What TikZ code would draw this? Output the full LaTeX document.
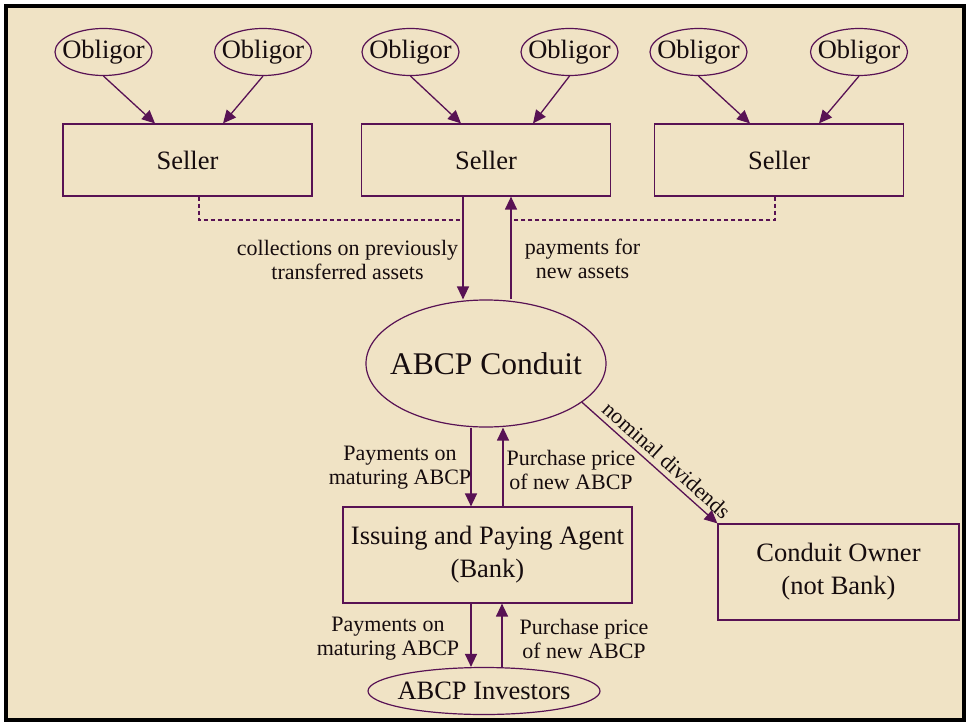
\documentclass[tikz,border=0pt]{standalone}
\usepackage{fontspec}
\setmainfont{Liberation Serif}
\usetikzlibrary{shapes.geometric}
\usetikzlibrary{arrows.meta}
\usetikzlibrary{positioning}

\definecolor{parch}{RGB}{240,227,197}
\definecolor{plum}{RGB}{88,18,84}
\definecolor{ink}{RGB}{22,12,14}

\tikzset{
  obl/.style={ellipse,draw=plum,line width=1.2pt,inner sep=0pt,text=ink,
    minimum width=97pt,minimum height=47pt,font=\fontsize{26.5}{30}\selectfont},
  seller/.style={rectangle,draw=plum,line width=1.2pt,text=ink,
    minimum width=249pt,minimum height=72pt,font=\fontsize{26.5}{30}\selectfont},
  box/.style={rectangle,draw=plum,line width=1.2pt,text=ink,align=center,
    font=\fontsize{26.5}{33}\selectfont},
  flow/.style={draw=plum,line width=1.3pt,-{Triangle[length=13pt,width=12pt]}},
  linkdash/.style={draw=plum,line width=1.1pt,dash pattern=on 4pt off 3pt},
  lbl/.style={text=ink,align=center,font=\fontsize{22}{24}\selectfont},
}

\begin{document}
\begin{tikzpicture}[x=1pt,y=-1pt]
\useasboundingbox (0,0) rectangle (969,723);
\fill[white] (0,0) rectangle (969,723);
\draw[black,line width=3.5pt,fill=parch] (6,6) rectangle (964,720);

% obligors and sellers
\node[obl] (ob1) at (103.5,52) {\makebox[0pt]{Obligor}};
\node[obl] (ob2) at (263,52) {\makebox[0pt]{Obligor}};
\node[obl] (ob3) at (410.5,52) {\makebox[0pt]{Obligor}};
\node[obl] (ob4) at (569.5,52) {\makebox[0pt]{Obligor}};
\node[obl] (ob5) at (698.5,52) {\makebox[0pt]{Obligor}};
\node[obl] (ob6) at (859,52) {\makebox[0pt]{Obligor}};

\node[seller] (s1) at (187.5,160) {Seller};
\node[seller] (s2) at (486,160) {Seller};
\node[seller] (s3) at (779,160) {Seller};

\draw[flow] (ob1.south) -- ([xshift=-32.5pt]s1.north);
\draw[flow] (ob2.south) -- ([xshift=35.5pt]s1.north);
\draw[flow] (ob3.south) -- ([xshift=-25pt]s2.north);
\draw[flow] (ob4.south) -- ([xshift=47pt]s2.north);
\draw[flow] (ob5.south) -- ([xshift=-29pt]s3.north);
\draw[flow] (ob6.south) -- ([xshift=40pt]s3.north);

% conduit
\node[ellipse,draw=plum,line width=1.2pt,inner sep=0pt,text=ink,minimum width=240pt,minimum height=127pt,
  font=\fontsize{31.5}{34}\selectfont] (con) at (486,363.5) {\makebox[0pt]{ABCP Conduit}};

\coordinate (dl) at (463,220);
\coordinate (dr) at (511,220);
\draw[linkdash] ([xshift=11.5pt]s1.south) |- (dl);
\draw[linkdash] ([xshift=-4pt]s3.south) |- (dr);

\draw[flow] ([xshift=-23pt]s2.south) -- ([xshift=-23pt]con.north);
\draw[flow] ([xshift=25pt]con.north) -- ([xshift=25pt]s2.south);

\node[lbl] (coll) at (347.5,260) {collections on previously\\transferred assets};
\node[lbl] (paynew) at (582.5,259) {payments for\\new assets};

% agent, owner, investors
\node[box,minimum width=289pt,minimum height=96pt] (ipa) at (487.5,555) {Issuing and Paying Agent\\(Bank)};
\node[box,minimum width=241pt,minimum height=96pt] (own) at (838.5,572) {Conduit Owner\\(not Bank)};
\node[ellipse,draw=plum,line width=1.2pt,inner sep=0pt,text=ink,minimum width=232pt,minimum height=47pt,
  font=\fontsize{26.5}{30}\selectfont] (inv) at (484,691) {\makebox[0pt]{ABCP Investors}};

\draw[flow] ([xshift=-15pt]con.south) -- ([xshift=-16.5pt]ipa.north);
\draw[flow] ([xshift=15.5pt]ipa.north) -- ([xshift=17pt]con.south);
\draw[flow] ([xshift=-16.5pt]ipa.south) -- ([xshift=-13pt]inv.north);
\draw[flow] ([xshift=18pt]inv.north) -- ([xshift=14.5pt]ipa.south);

\draw[flow] (con.-22) -- (own.north west) node[pos=0.56,sloped,above,lbl,inner sep=5pt] (divlbl) {nominal dividends};

\node[lbl] (paym1) at (400,468) {Payments on\\maturing ABCP};
\node[lbl] (purch1) at (571,470) {Purchase price\\of new ABCP};
\node[lbl] (paym2) at (388,639) {Payments on\\maturing ABCP};
\node[lbl] (purch2) at (584,639) {Purchase price\\of new ABCP};

\end{tikzpicture}
\end{document}
